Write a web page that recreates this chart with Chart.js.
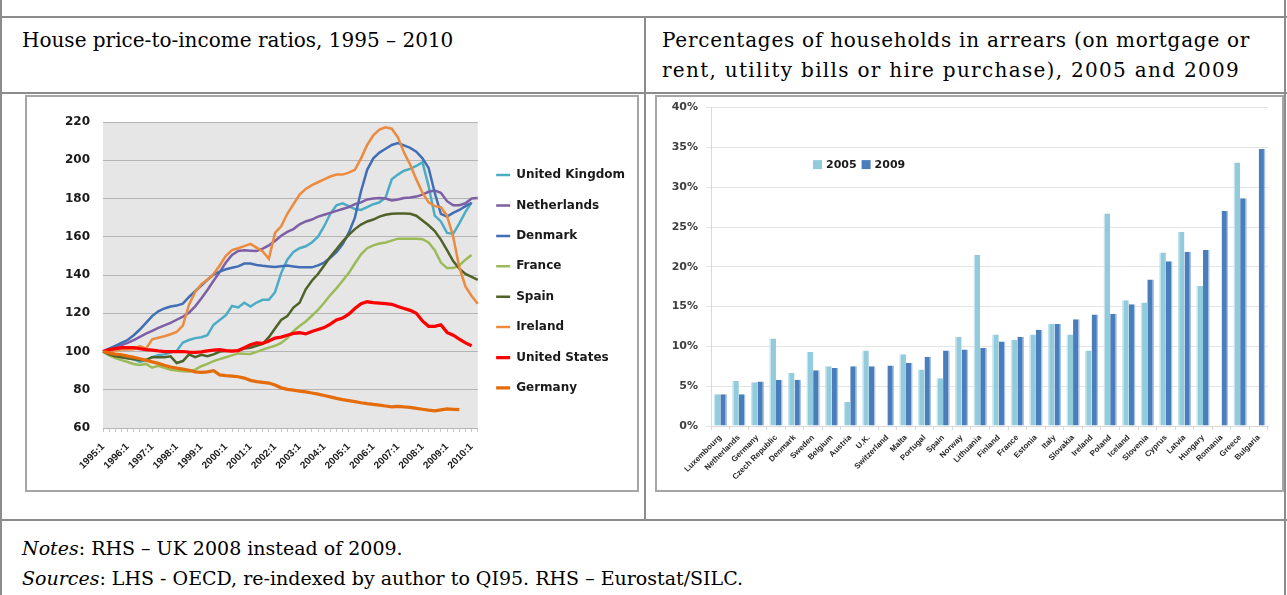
<!DOCTYPE html>
<html>
<head>
<meta charset="utf-8">
<script src="https://cdn.jsdelivr.net/npm/chart.js@4.4.0/dist/chart.umd.min.js"></script>
<style>
  body { margin: 0; background: #fff; }
  #page { position: relative; width: 1287px; height: 595px; overflow: hidden; font-family: "DejaVu Serif", serif; color: #000; }
  .ln { position: absolute; background: #8c8c8c; }
  .txt { position: absolute; white-space: nowrap; font-size: 20px; line-height: 30px; }
  .note { font-size: 19px; }
  .box { position: absolute; border: 2px solid #a6a6a6; box-sizing: border-box; }
  .cv { position: absolute; }
</style>
</head>
<body>
<div id="page">
  <div class="ln" style="left:0;top:0;width:2px;height:595px"></div>
  <div class="ln" style="left:1284px;top:0;width:2px;height:595px"></div>
  <div class="ln" style="left:0;top:16px;width:1287px;height:2px"></div>
  <div class="ln" style="left:0;top:92px;width:1287px;height:2px"></div>
  <div class="ln" style="left:0;top:519px;width:1287px;height:2px"></div>
  <div class="ln" style="left:644px;top:17px;width:2px;height:503px"></div>

  <div class="txt" style="left:22px;top:25px">House price-to-income ratios, 1995 – 2010</div>
  <div class="txt" style="left:662px;top:25px;letter-spacing:0.75px">Percentages of households in arrears (on mortgage or</div>
  <div class="txt" style="left:662px;top:55px;letter-spacing:1.3px">rent, utility bills or hire purchase), 2005 and 2009</div>

  <div class="box" style="left:25px;top:95px;width:614px;height:397px"></div>
  <div class="box" style="left:655px;top:95px;width:629px;height:397px"></div>

  <div class="cv" style="left:30px;top:100px;width:610px;height:380px"><canvas id="lhs"></canvas></div>
  <div class="cv" style="left:658px;top:93px;width:622px;height:393px"><canvas id="rhs"></canvas></div>

  <div class="txt note" style="left:22px;top:533px"><i>Notes</i>: RHS – UK 2008 instead of 2009.</div>
  <div class="txt note" style="left:22px;top:563px"><i>Sources</i>: LHS - OECD, re-indexed by author to QI95. RHS – Eurostat/SILC.</div>
</div>

<script>
// LHS: quarterly index, 1995:1 = 100
const years = [1995,1996,1997,1998,1999,2000,2001,2002,2003,2004,2005,2006,2007,2008,2009,2010];
const quarters = [];
years.forEach(y => { for (let q = 1; q <= 4; q++) quarters.push(y + ':' + q); });
quarters.length = 62; // up to 2010:2

const unitedKingdom = [100,99,98,97,96.5,96,94.5,95.5,97,98,98.5,99.5,100.3,104.7,106,107,107.5,108.5,114,116.5,119,123.8,123,125.5,123.5,125.6,127,127,131,141,148,
  152,154,155,157,160,165.5,172,176.5,177.5,176,174.5,174,175.5,177,178,180.5,190,192.5,194.5,195.5,197,199,186.5,171,168,162,161.5,167,173,178,null];
const netherlands = [100,101,102.2,103.3,104.5,106,107.7,109.3,110.8,112.3,113.7,115,116.6,118.2,120.3,123.6,127.7,132.2,137,141.5,146.5,150.5,152.6,152.9,152.7,152.5,153.8,155.5,157.8,160.5,162.5,
  164,166.5,168,169,170.5,171.5,172.5,173.5,174.5,175.5,177,178,179.5,180,180.3,180,179,179.5,180.3,180.5,181,182,183.5,184.2,183,178.6,176.5,176.5,177.5,180,180.3];
const denmark = [100,101.5,103,104.5,106,108.5,111.5,115,118.5,121,122.5,123.5,124,125,128.5,131.5,134.5,137.5,140.2,141.8,143,143.8,144.5,146,146,145.2,144.8,144.5,144.2,144.6,145,
  144.5,144,144,144,145,146.5,149,152,156,162,170,183.8,195,201,204,206,208,209,207.8,206.5,204.5,201,196,183,172,170.5,172.5,174,176,177.7,null];
const france = [100,98,96.5,95.5,94.5,93.5,93,93.5,91.5,92.5,91.5,90.5,90,89.7,89.6,90.5,92.3,93.5,95,96,97,98,99,98.8,98.7,99.8,101,102,103,104.5,107,
  110.6,113.4,115.7,118.7,121.7,125.5,129.5,133,137,141,146,150.8,154,155.5,156.5,157,158,159,159,159,159,158.7,157,153,146.5,143.6,143.6,145,148,150.5,null];
const spain = [100,98.5,97.5,97,96.5,96,95.5,95.5,97,97,97,97.5,94,95,98.5,97,98.3,97.5,98.5,100,100.3,100.3,100.5,101.5,102,103,104,107.5,112,116.5,118.5,
  123,125.5,132.5,137,140.5,145,149.5,153.5,157.5,161,164,166.4,168,169,170.5,171.5,172,172.2,172.2,172,171,168.5,166,163,158.5,153,147.3,143.3,140.6,139,137.5];
const ireland = [100,100.3,100.6,101,101,101.2,102.8,101.5,106.4,107.2,108,109,110.2,113.5,124.5,131,135.2,137.5,140.5,145,150,153,154,155.1,156.3,154.3,152.3,148.5,162,165.5,172,
  177,182,185,187,188.5,190,191.5,192.5,192.5,193.5,195,201,208,213,216,217.2,216.5,212,204,197.7,190,183,178,176,175.5,171,160,144,134,129,125];
const unitedStates = [100,101,101.5,102,102,102,101.5,101,100.7,100.3,100,100,100,100,99.7,99.5,99.8,100.3,100.7,101,100.5,100.2,100.5,102,103.5,104.5,104.3,105.5,107,107.5,108.5,
  109.5,109.8,109.2,110.5,111.5,112.5,114.3,116.5,117.5,119.5,122.5,125,126,125.6,125.3,125,124.7,123.5,122.5,121.5,120,116,113.2,113.2,114,110,108.5,106.5,104.5,103,null];
const germany = [100,99.3,98.6,98.3,97.6,97,96.2,95.4,94.6,93.8,92.8,91.9,91.3,90.8,90.2,89.4,89.1,89.4,90,87.8,87.4,87.1,86.8,86.1,84.9,84.3,83.9,83.5,82.5,81,80.2,
  79.8,79.3,78.9,78.3,77.7,77,76.3,75.5,74.8,74.3,73.8,73.2,72.7,72.3,72,71.5,71,71.3,71,70.8,70.3,69.8,69.3,69,69.5,70,69.8,69.6,null,null,null];

const lhsNames = ['United Kingdom','Netherlands','Denmark','France','Spain','Ireland','United States','Germany'];
const lhsValues = [unitedKingdom, netherlands, denmark, france, spain, ireland, unitedStates, germany];
const lhsColors = ['#4bacc6','#7d5fa6','#416eb4','#9bbb59','#4f6228','#ec8a3e','#ff0000','#e46c0a'];
const lhsWidths = [2.5,2.5,2.5,2.5,2.5,2.5,3.25,3.25];

// RHS: share of households in arrears, %
const countries = ['Luxembourg','Netherlands','Germany','Czech Republic','Denmark','Sweden','Belgium','Austria','U.K.','Switzerland',
  'Malta','Portugal','Spain','Norway','Lithuania','Finland','France','Estonia','Italy','Slovakia',
  'Ireland','Poland','Iceland','Slovenia','Cyprus','Latvia','Hungary','Romania','Greece','Bulgaria'];
const arrears2005 = [4.0,5.7,5.5,11.0,6.7,9.3,7.5,3.0,9.5,null,9.0,7.1,6.0,11.2,21.5,11.5,10.8,11.5,12.8,11.5,9.5,26.7,15.8,15.5,21.8,24.4,17.6,null,33.1,null];
const arrears2009 = [4.0,4.0,5.6,5.8,5.8,7.0,7.3,7.5,7.5,7.6,7.9,8.7,9.5,9.6,9.8,10.6,11.2,12.1,12.8,13.4,14.0,14.1,15.3,18.4,20.7,21.9,22.1,27.0,28.6,34.8];

// grey plot background
const plotBg = {
  id: 'plotBg',
  beforeDraw(chart, args, opts) {
    const {ctx, chartArea: a} = chart;
    ctx.save();
    ctx.fillStyle = opts.color;
    ctx.fillRect(a.left, a.top, a.right - a.left, a.bottom - a.top);
    ctx.restore();
  }
};

// small legend placed inside the plot area
const innerLegend = {
  id: 'innerLegend',
  afterDraw(chart, args, opts) {
    const {ctx, chartArea: a} = chart;
    let x = a.left + opts.x;
    const y = a.top + opts.y;
    ctx.save();
    ctx.font = opts.font;
    ctx.textBaseline = 'middle';
    chart.data.datasets.forEach(ds => {
      ctx.fillStyle = ds.backgroundColor;
      ctx.fillRect(x, y - 4.5, 9, 9);
      x += 13;
      ctx.fillStyle = opts.color;
      ctx.fillText(ds.label, x, y + 0.5);
      x += ctx.measureText(ds.label).width + 5;
    });
    ctx.restore();
  }
};

new Chart(document.getElementById('lhs'), {
  type: 'line',
  data: {
    labels: quarters,
    datasets: lhsNames.map((name, i) => ({
      label: name,
      data: lhsValues[i],
      borderColor: lhsColors[i],
      backgroundColor: lhsColors[i],
      borderWidth: lhsWidths[i],
      pointRadius: 0,
      tension: 0,
      order: lhsNames.length - i
    }))
  },
  options: {
    responsive: true,
    maintainAspectRatio: false,
    animation: false,
    layout: { padding: { top: 22, right: 13, bottom: 0, left: 0 } },
    plugins: {
      plotBg: { color: '#e6e6e6' },
      tooltip: { enabled: false },
      legend: {
        position: 'right',
        fullSize: false,
        title: { display: true, text: ' ', padding: { top: 7, bottom: 0 }, font: { size: 5 } },
        labels: {
          boxWidth: 14,
          boxHeight: 0,
          padding: 18.4,
          color: '#1a1a1a',
          font: { family: 'DejaVu Sans', size: 12, weight: 'bold' },
          sort: (a, b) => a.datasetIndex - b.datasetIndex
        }
      }
    },
    scales: {
      x: {
        grid: { drawOnChartArea: false, drawTicks: true, tickLength: 4, color: '#c8c8c8' },
        border: { display: false },
        ticks: {
          autoSkip: false, minRotation: 45, maxRotation: 45, padding: 9,
          color: '#1a1a1a',
          font: { family: 'Liberation Sans', size: 10, weight: 'bold' },
          callback: function (v) { const l = this.getLabelForValue(v); return l.endsWith(':1') ? l : ''; }
        },
        afterFit: s => { s.height = 52; }
      },
      y: {
        min: 60, max: 220,
        grid: { color: '#b4b4b4', drawTicks: false },
        border: { display: false },
        ticks: { stepSize: 20, padding: 13, color: '#1a1a1a', font: { family: 'DejaVu Sans', size: 12, weight: 'bold' } },
        afterFit: s => { s.width = 73; }
      }
    }
  },
  plugins: [plotBg]
});

new Chart(document.getElementById('rhs'), {
  type: 'bar',
  data: {
    labels: countries,
    datasets: [
      { label: '2005', data: arrears2005, backgroundColor: '#92cbdc', borderColor: '#c8e5ee', borderWidth: { left: 1.5, right: 0, top: 0, bottom: 0 } },
      { label: '2009', data: arrears2009, backgroundColor: '#4a7dbb', borderColor: '#a9c2e1', borderWidth: { left: 0, right: 1.5, top: 0, bottom: 0 } }
    ]
  },
  options: {
    responsive: true,
    maintainAspectRatio: false,
    animation: false,
    layout: { padding: { top: 8, right: 12, bottom: 0, left: 0 } },
    datasets: { bar: { categoryPercentage: 0.72, barPercentage: 1 } },
    plugins: {
      legend: { display: false },
      tooltip: { enabled: false },
      innerLegend: { x: 102, y: 57, font: 'bold 11px "DejaVu Sans"', color: '#1a1a1a' }
    },
    scales: {
      x: {
        grid: { drawOnChartArea: false, drawTicks: true, tickLength: 4, color: '#d9d9d9' },
        border: { color: '#d9d9d9' },
        ticks: {
          autoSkip: false, minRotation: 45, maxRotation: 45, padding: 3,
          color: '#262626',
          font: { family: 'Liberation Sans', size: 8, weight: 'bold' }
        },
        afterFit: s => { s.height = 60; }
      },
      y: {
        min: 0, max: 40,
        grid: { color: '#e4e4e4', tickLength: 5 },
        border: { color: '#d9d9d9' },
        ticks: { stepSize: 5, padding: 8, color: '#404040', font: { family: 'DejaVu Sans', size: 11, weight: 'bold' }, callback: v => v + '%' },
        afterFit: s => { s.width = 53; }
      }
    }
  },
  plugins: [innerLegend]
});
</script>
</body>
</html>
